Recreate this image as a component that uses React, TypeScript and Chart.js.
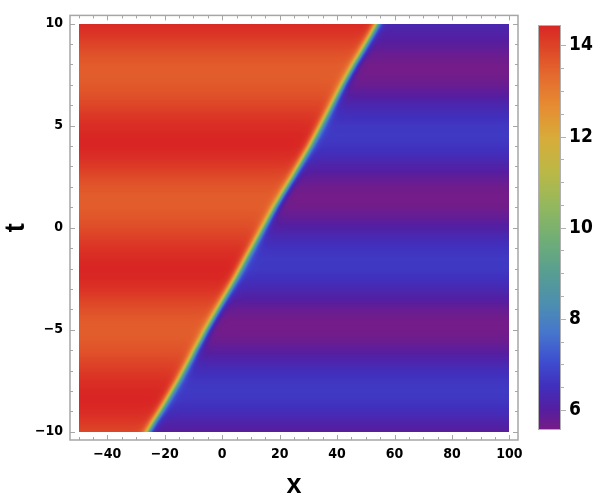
import React, { useEffect, useRef } from "react";
import { Chart, registerables } from "chart.js";

Chart.register(...registerables);

const tSamples = [
  -10, -9.5, -9, -8.5, -8, -7.5, -7, -6.5, -6, -5.5, -5, -4.5, -4, -3.5, -3, -2.5, -2, -1.5, -1, -0.5,
  0, 0.5, 1, 1.5, 2, 2.5, 3, 3.5, 4, 4.5, 5, 5.5, 6, 6.5, 7, 7.5, 8, 8.5, 9, 9.5, 10,
];
// level of the field on the left (x << front)
const leftLevel = [
  13.93, 14.17, 14.36, 14.45, 14.42, 14.3, 14.12, 13.92, 13.73, 13.6, 13.55, 13.61, 13.79, 14.02, 14.25,
  14.41, 14.45, 14.38, 14.24, 14.04, 13.84, 13.67, 13.57, 13.56, 13.67, 13.88, 14.12, 14.33, 14.44, 14.43,
  14.33, 14.16, 13.96, 13.76, 13.62, 13.55, 13.59, 13.75, 13.98, 14.21, 14.39,
];
// level of the field on the right (x >> front)
const rightLevel = [
  5.95, 6.19, 6.45, 6.63, 6.7, 6.63, 6.45, 6.19, 5.92, 5.71, 5.61, 5.63, 5.78, 6.03, 6.3, 6.53, 6.68, 6.69,
  6.57, 6.35, 6.08, 5.83, 5.65, 5.6, 5.68, 5.88, 6.14, 6.4, 6.6, 6.7, 6.66, 6.49, 6.25, 5.97, 5.75, 5.62,
  5.62, 5.75, 5.95, 6.12, 6.28,
];
// x position of the kink front
const frontX = [
  -25.8, -23.8, -21.6, -19.5, -17.4, -15.3, -13.3, -11.3, -9.4, -7.4, -5.5, -3.5, -1.5, 0.5, 2.5, 4.5, 6.4,
  8.3, 10.3, 12.3, 14.3, 16.3, 18.3, 20.4, 22.5, 24.6, 26.6, 28.6, 30.6, 32.5, 34.4, 36.3, 38.2, 40.1, 42.0,
  44.0, 46.0, 48.1, 50.1, 52.1, 54.0,
];
const xTicks = [-40, -20, 0, 20, 40, 60, 80, 100];
const tTicks = [-10, -5, 0, 5, 10];
const colorbarTicks = [6, 8, 10, 12, 14];
const xRange = [-50, 100];
const tRange = [-10, 10];
const valueRange = [5.56, 14.44];

// ---- style ----
const KINK_WIDTH = 1.6;
const FRAME = "#a6a6a6";
const NARROW = '"Liberation Sans Narrow", "DejaVu Sans Condensed", "Liberation Sans", Arial, sans-serif';
const BOLD = '"Liberation Sans", Arial, sans-serif';
const RAMP: number[][] = [
  [0.0, 120, 28, 134],
  [0.05, 85, 30, 160],
  [0.11, 64, 48, 190],
  [0.17, 62, 78, 208],
  [0.24, 70, 118, 204],
  [0.31, 76, 142, 176],
  [0.39, 88, 158, 145],
  [0.47, 112, 174, 118],
  [0.56, 150, 184, 92],
  [0.64, 188, 184, 70],
  [0.72, 215, 172, 58],
  [0.8, 230, 140, 50],
  [0.88, 228, 104, 46],
  [0.94, 222, 72, 40],
  [1.0, 217, 38, 36],
];

function rampColor(v: number): number[] {
  let f = (v - valueRange[0]) / (valueRange[1] - valueRange[0]);
  f = Math.max(0, Math.min(1, f));
  for (let i = 0; i < RAMP.length - 1; i++) {
    const a = RAMP[i], b = RAMP[i + 1];
    if (f <= b[0]) {
      const u = (f - a[0]) / (b[0] - a[0]);
      return [a[1] + (b[1] - a[1]) * u, a[2] + (b[2] - a[2]) * u, a[3] + (b[3] - a[3]) * u];
    }
  }
  const l = RAMP[RAMP.length - 1];
  return [l[1], l[2], l[3]];
}

function sampleRow(t: number) {
  let i = 0;
  while (i < tSamples.length - 2 && t > tSamples[i + 1]) i++;
  let a = (t - tSamples[i]) / (tSamples[i + 1] - tSamples[i]);
  a = Math.max(0, Math.min(1, a));
  const mix = (arr: number[]) => arr[i] + (arr[i + 1] - arr[i]) * a;
  return { L: mix(leftLevel), R: mix(rightLevel), xf: mix(frontX) };
}

function fieldValue(x: number, row: { L: number; R: number; xf: number }) {
  const s = 0.5 * (1 - Math.tanh((x - row.xf) / KINK_WIDTH));
  return row.R + (row.L - row.R) * s;
}

const fmt = (v: number) => (v < 0 ? "\u2212" + Math.abs(v) : String(v));

const heatmapPlugin = {
  id: "heatmap",
  beforeDatasetsDraw(chart: any) {
    const ctx = chart.ctx;
    const xs = chart.scales.x, ys = chart.scales.y;
    const dpr = chart.currentDevicePixelRatio || 1;
    const dx0 = Math.round(xs.getPixelForValue(xRange[0]) * dpr);
    const dx1 = Math.round(xs.getPixelForValue(xRange[1]) * dpr);
    const dy0 = Math.round(ys.getPixelForValue(tRange[1]) * dpr);
    const dy1 = Math.round(ys.getPixelForValue(tRange[0]) * dpr);
    const w = dx1 - dx0, h = dy1 - dy0;
    const img = ctx.createImageData(w, h);
    for (let j = 0; j < h; j++) {
      const t = ys.getValueForPixel((dy0 + j + 0.5) / dpr);
      const row = sampleRow(t);
      for (let i = 0; i < w; i++) {
        const x = xs.getValueForPixel((dx0 + i + 0.5) / dpr);
        const c = rampColor(fieldValue(x, row));
        const k = (j * w + i) * 4;
        img.data[k] = c[0];
        img.data[k + 1] = c[1];
        img.data[k + 2] = c[2];
        img.data[k + 3] = 255;
      }
    }
    ctx.putImageData(img, dx0, dy0);
  },
  afterDraw(chart: any) {
    const ctx = chart.ctx;
    const { left, right, top, bottom } = chart.chartArea;
    const xs = chart.scales.x, ys = chart.scales.y, cb = chart.scales.cb;
    ctx.save();
    ctx.strokeStyle = FRAME;
    ctx.lineWidth = 1;
    const seg = (x1: number, y1: number, x2: number, y2: number) => {
      ctx.beginPath();
      ctx.moveTo(x1, y1);
      ctx.lineTo(x2, y2);
      ctx.stroke();
    };
    // frame ticks (inward, on all four sides)
    for (let v = -50; v <= 100; v += 5) {
      const len = xTicks.includes(v) ? 5 : 3;
      const p = Math.round(xs.getPixelForValue(v)) + 0.5;
      seg(p, bottom, p, bottom - len);
      seg(p, top, p, top + len);
    }
    for (let v = -10; v <= 10; v += 1) {
      const len = tTicks.includes(v) ? 5 : 3;
      const p = Math.round(ys.getPixelForValue(v)) + 0.5;
      seg(left, p, left + len, p);
      seg(right, p, right - len, p);
    }
    ctx.lineWidth = 1.5;
    ctx.strokeRect(left, top, right - left, bottom - top);

    // colorbar
    const barL = cb.left + 20;
    const barW = 23;
    const bt = Math.round(cb.getPixelForValue(valueRange[1]));
    const bb = Math.round(cb.getPixelForValue(valueRange[0]));
    for (let py = bt; py < bb; py++) {
      const v = cb.getValueForPixel(py + 0.5);
      const c = rampColor(v);
      ctx.fillStyle = `rgb(${Math.round(c[0])},${Math.round(c[1])},${Math.round(c[2])})`;
      ctx.fillRect(barL, py, barW, 1);
    }
    ctx.strokeStyle = "#b0b0b0";
    ctx.lineWidth = 1;
    ctx.strokeRect(barL + 0.5, bt + 0.5, barW - 1, bb - bt - 1);
    for (let v = 6; v <= 14.001; v += 0.5) {
      const len = colorbarTicks.includes(v) ? 5 : 3;
      const p = Math.round(cb.getPixelForValue(v)) + 0.5;
      seg(barL + barW, p, barL + barW + len, p);
    }
    ctx.restore();
  },
};

export default function App() {
  const ref = useRef<HTMLCanvasElement | null>(null);
  useEffect(() => {
    if (!ref.current) return;
    const chart = new Chart(ref.current, {
      type: "scatter",
      data: { datasets: [{ data: [] }] },
      options: {
        animation: false,
        responsive: false,
        devicePixelRatio: 1,
        layout: { padding: { top: 15, left: 0, right: 0, bottom: 0 } },
        plugins: { legend: { display: false }, tooltip: { enabled: false } },
        scales: {
          x: {
            type: "linear",
            min: -53,
            max: 103,
            afterBuildTicks: (s: any) => {
              s.ticks = xTicks.map((v) => ({ value: v }));
            },
            afterFit: (s: any) => {
              s.height = 60;
            },
            grid: { display: false, drawTicks: false },
            border: { display: false },
            ticks: {
              color: "#000",
              font: { family: NARROW, size: 14, weight: "bold" },
              padding: 6,
              maxRotation: 0,
              autoSkip: false,
              callback: (v: any) => fmt(Number(v)),
            },
            title: {
              display: true,
              text: "x",
              color: "#000",
              font: { family: BOLD, size: 27, weight: "bold", lineHeight: 1 },
              padding: { top: 0, bottom: 1 },
            },
          },
          y: {
            type: "linear",
            min: -10.4,
            max: 10.4,
            afterBuildTicks: (s: any) => {
              s.ticks = tTicks.map((v) => ({ value: v }));
            },
            afterFit: (s: any) => {
              s.width = 70;
            },
            grid: { display: false, drawTicks: false },
            border: { display: false },
            ticks: {
              color: "#000",
              font: { family: NARROW, size: 14, weight: "bold" },
              padding: 7,
              autoSkip: false,
              callback: (v: any) => fmt(Number(v)),
            },
            title: {
              display: true,
              text: "t",
              color: "#000",
              font: { family: BOLD, size: 27, weight: "bold", lineHeight: 1 },
              padding: { top: 3.5, bottom: 0 },
            },
          },
          cb: {
            type: "linear",
            axis: "y",
            position: "right",
            min: 5.34,
            max: 14.66,
            afterBuildTicks: (s: any) => {
              s.ticks = colorbarTicks.map((v) => ({ value: v }));
            },
            afterFit: (s: any) => {
              s.width = 82;
            },
            grid: { display: false, drawTicks: true, tickLength: 49 },
            border: { display: false },
            ticks: {
              color: "#000",
              font: { family: NARROW, size: 19, weight: "bold" },
              padding: 2,
              autoSkip: false,
            },
          },
        },
      } as any,
      plugins: [heatmapPlugin],
    });
    return () => chart.destroy();
  }, []);
  return (
    <div style={{ position: "fixed", left: 0, top: 0, width: 600, height: 500, background: "#fff" }}>
      <canvas ref={ref} width={600} height={500} style={{ width: 600, height: 500, display: "block" }} />
    </div>
  );
}
